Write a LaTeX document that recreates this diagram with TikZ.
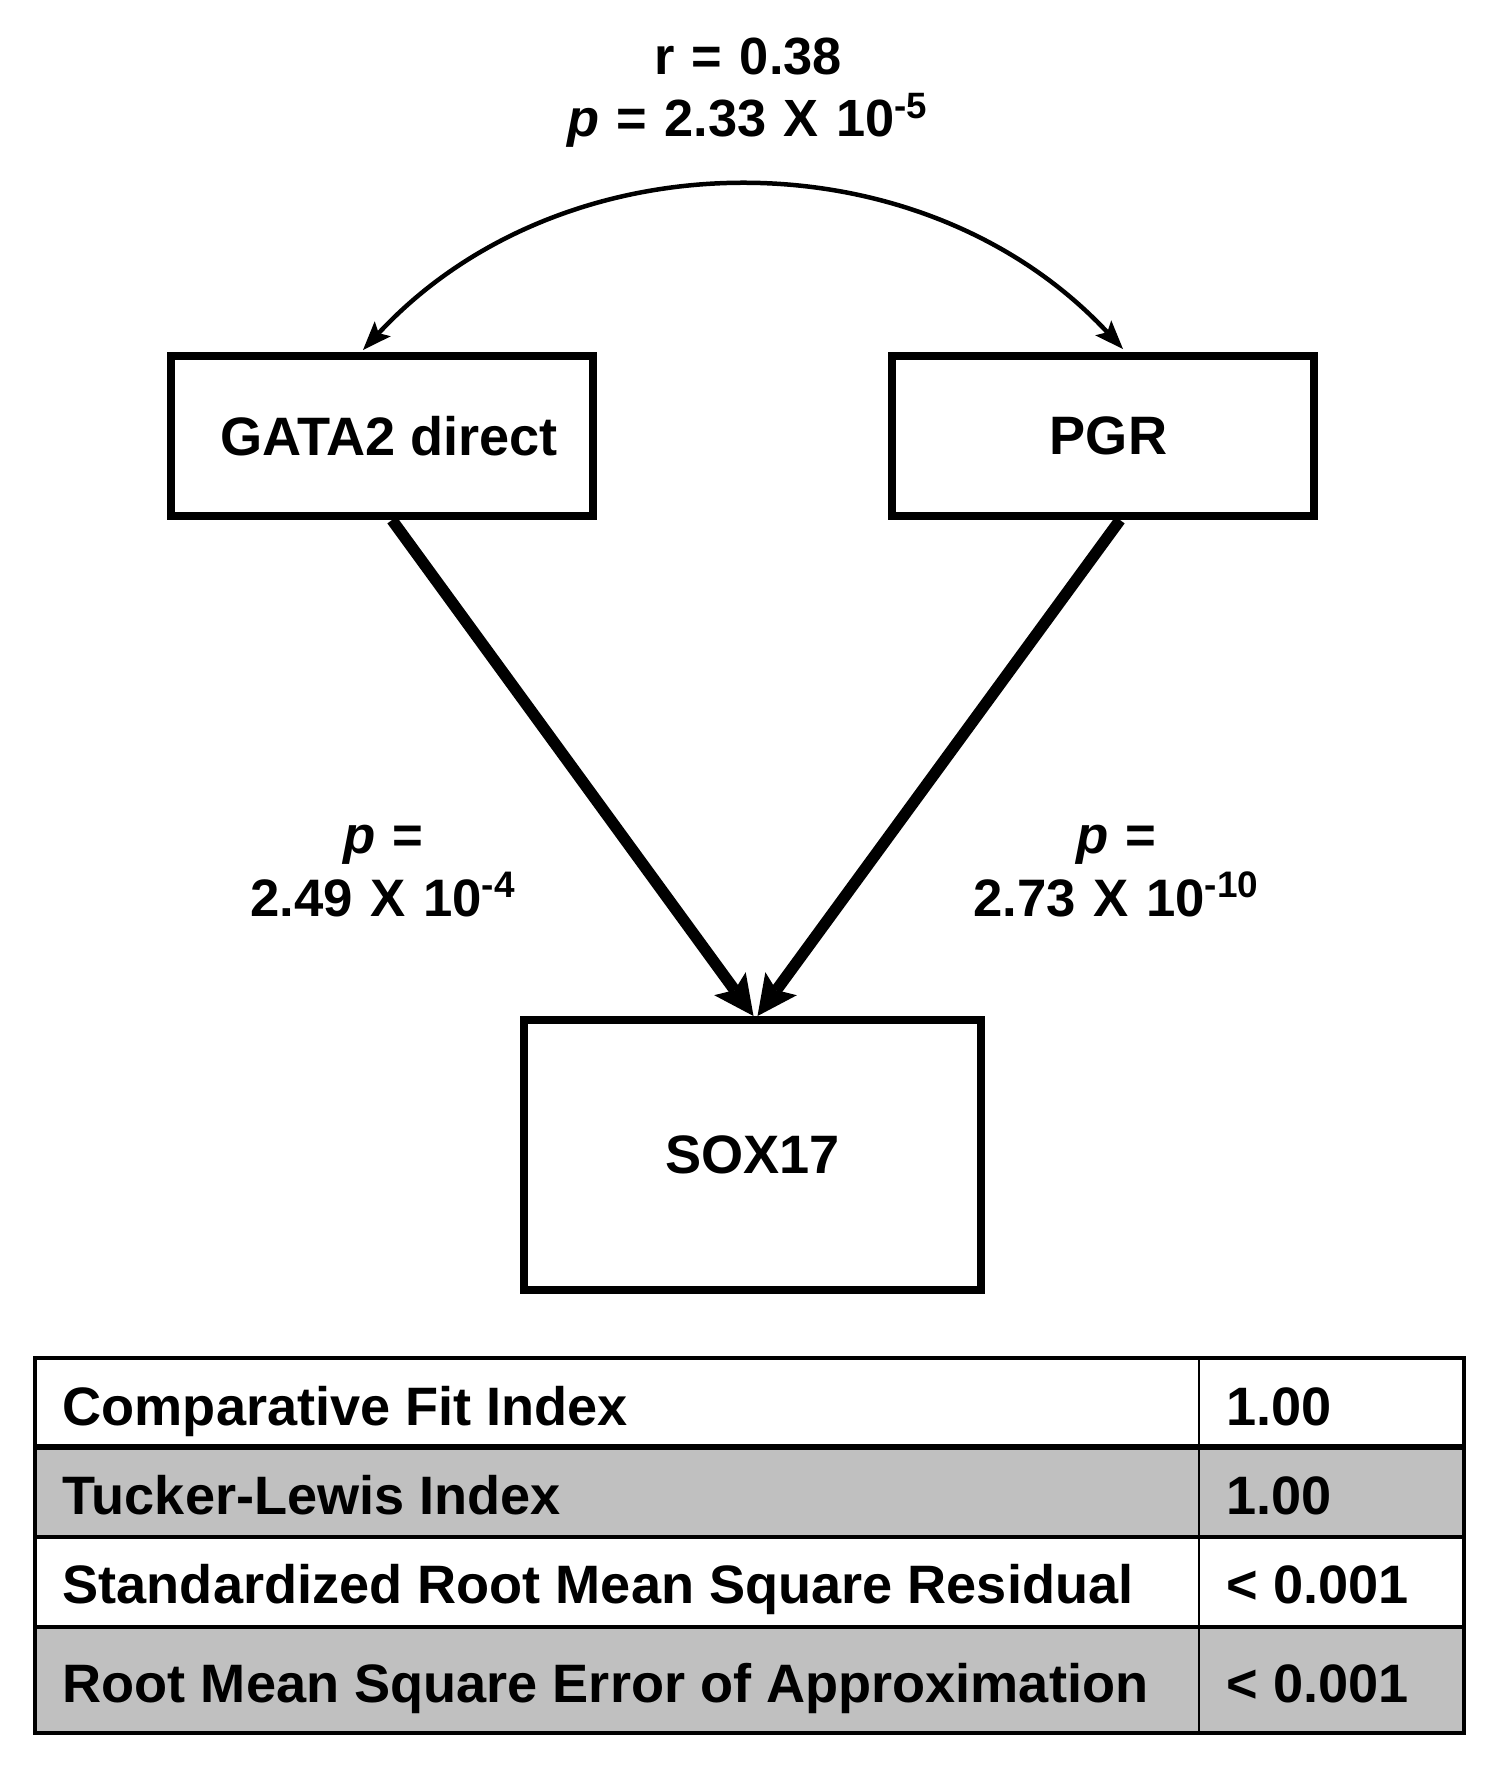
\documentclass[tikz,border=0pt]{standalone}
\usepackage{fontspec}
\setmainfont{Liberation Sans}
\usetikzlibrary{arrows.meta}
\usetikzlibrary{positioning}
\definecolor{fg}{rgb}{0,0,0}
\definecolor{rowgray}{RGB}{192,192,192}
\newcommand{\bigbold}{\fontsize{15.4}{18}\selectfont\bfseries}
\newcommand{\lblbold}{\fontsize{15}{18}\selectfont\bfseries}
\newcommand{\topbold}{\fontsize{14.9}{17.9}\selectfont\bfseries}
\tikzstyle{box}=[draw=fg, line width=0.8mm, minimum width=42.2mm, minimum height=16mm,
anchor=center, text=fg, font=\bigbold]
\tikzstyle{bigbox}=[box, minimum width=45.7mm, minimum height=27mm]
\tikzstyle{pathlbl}=[text=fg, font=\lblbold, text width=60mm, align=center, anchor=base]
\tikzstyle{myarrow}=[-{Stealth[length=4mm, width=3.9mm, inset=0.8mm, line width=0pt]}, line width=1.15mm]
\tikzstyle{corrarrow}=[{Stealth[length=2.9mm, width=2.2mm, inset=0.6mm, line width=0pt]}-{Stealth[length=2.9mm, width=2.2mm, inset=0.6mm, line width=0pt]}, line width=0.45mm]
\tikzstyle{cell}=[anchor=base west, inner sep=0pt, text=fg, font=\bigbold]
\tikzstyle{rule}=[draw=fg, line width=0.35mm]

\begin{document}
\begin{tikzpicture}[x=1mm, y=1mm]

    \useasboundingbox (0,0) rectangle (150,-177.8);

    \node[box] (gata) at (38.2,-43.6) {\hspace*{1.4mm}GATA2 direct};

    \node[box, right=29.05mm of gata] (pgr) {\hspace*{1.2mm}PGR};

    \node[bigbox, below=49.6mm of gata, xshift=37.05mm] (sox) {SOX17};

    \draw[myarrow] ([xshift=1mm]gata.south) -- ([xshift=0.1mm]sox.north) ;
    \draw[myarrow] ([xshift=1.75mm]pgr.south) -- ([xshift=0.5mm]sox.north) ;

    \draw[corrarrow] ([xshift=-1.9mm, yshift=0.2mm]gata.north) to[bend left=47] ([xshift=2.05mm, yshift=0.3mm]pgr.north) ;

    \node[pathlbl, font=\topbold] (corr) at (74.8,-7.4) {r = 0.38\\\textit{p} = 2.33 X 10\textsuperscript{-5}};
    \node[pathlbl] (pgata) at (38.35,-85.3) {\textit{p} =\\2.49 X 10\textsuperscript{-4}};
    \node[pathlbl] (ppgr) at (111.65,-85.3) {\textit{p} =\\2.73 X 10\textsuperscript{-10}};

    % fit indices table
    \fill[rowgray] (3.5,-144.7) rectangle (146.4,-153.7);
    \fill[rowgray] (3.5,-162.7) rectangle (146.4,-173.3);
    \draw[rule] (3.5,-135.8) rectangle (146.4,-173.3);
    \draw[rule, line width=0.6mm] (3.5,-144.7) -- (146.4,-144.7);
    \draw[rule] (3.5,-153.7) -- (146.4,-153.7);
    \draw[rule] (3.5,-162.7) -- (146.4,-162.7);
    \draw[rule, line width=0.25mm] (119.9,-135.8) -- (119.9,-173.3);

    \node[cell] (cfi) at (6.2,-142.5) {Comparative Fit Index};
    \node[cell] (cfival) at (122.6,-142.5) {1.00};
    \node[cell] (tli) at (6.2,-151.4) {Tucker-Lewis Index};
    \node[cell] (tlival) at (122.6,-151.4) {1.00};
    \node[cell] (srmr) at (6.2,-160.3) {Standardized Root Mean Square Residual};
    \node[cell] (srmrval) at (122.6,-160.3) {< 0.001};
    \node[cell] (rmsea) at (6.2,-170.2) {Root Mean Square Error of Approximation};
    \node[cell] (rmseaval) at (122.6,-170.2) {< 0.001};

\end{tikzpicture}
\end{document}
